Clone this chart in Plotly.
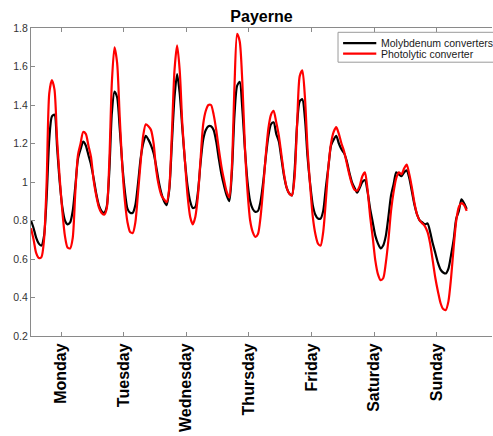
import plotly.graph_objects as go

# Hourly NOx ratio over one week at Payerne (hour 0 = Monday 00:00)
hours = list(range(168))

molybdenum = [
    0.80, 0.76, 0.71, 0.68, 0.67, 0.72, 0.92, 1.22, 1.34, 1.35, 1.18, 1.00,
    0.87, 0.80, 0.78, 0.79, 0.85, 0.98, 1.12, 1.17, 1.21, 1.19, 1.14, 1.09,
    1.02, 0.94, 0.88, 0.85, 0.84, 0.87, 1.05, 1.36, 1.47, 1.44, 1.28, 1.09,
    0.95, 0.86, 0.84, 0.84, 0.88, 0.99, 1.12, 1.20, 1.24, 1.22, 1.19, 1.15,
    1.08, 1.00, 0.94, 0.90, 0.88, 0.96, 1.20, 1.44, 1.56, 1.46, 1.28, 1.11,
    0.98, 0.90, 0.865, 0.87, 0.95, 1.10, 1.22, 1.27, 1.29, 1.29, 1.27, 1.21,
    1.12, 1.04, 0.98, 0.93, 0.90, 1.05, 1.35, 1.50, 1.52, 1.38, 1.17, 1.00,
    0.90, 0.86, 0.845, 0.85, 0.90, 1.00, 1.13, 1.24, 1.30, 1.31, 1.25, 1.21,
    1.12, 1.03, 0.97, 0.94, 0.93, 1.05, 1.30, 1.42, 1.43, 1.33, 1.13, 0.99,
    0.88, 0.83, 0.81, 0.81, 0.85, 0.97, 1.08, 1.19, 1.22, 1.24, 1.20, 1.17,
    1.15, 1.11, 1.05, 1.00, 0.97, 0.945, 0.97, 1.00, 1.01, 0.95, 0.86, 0.79,
    0.72, 0.68, 0.655, 0.67, 0.72, 0.82, 0.93, 0.99, 1.05, 1.04, 1.03, 1.05,
    1.06, 1.02, 0.95, 0.88, 0.83, 0.80, 0.79, 0.78, 0.785, 0.74, 0.68, 0.63,
    0.58, 0.545, 0.53, 0.525, 0.55, 0.62, 0.70, 0.81, 0.85, 0.91, 0.89, 0.86,
]

photolytic = [
    0.76, 0.70, 0.63, 0.605, 0.61, 0.70, 1.00, 1.46, 1.53, 1.48, 1.22, 1.02,
    0.85, 0.72, 0.66, 0.655, 0.71, 0.95, 1.14, 1.20, 1.26, 1.25, 1.19, 1.13,
    1.01, 0.93, 0.87, 0.84, 0.83, 0.86, 1.10, 1.52, 1.70, 1.62, 1.34, 1.08,
    0.90, 0.79, 0.74, 0.735, 0.79, 0.94, 1.10, 1.24, 1.30, 1.29, 1.27, 1.20,
    1.06, 0.98, 0.93, 0.91, 0.895, 0.97, 1.25, 1.58, 1.71, 1.58, 1.30, 1.11,
    0.93, 0.82, 0.78, 0.82, 0.93, 1.12, 1.30, 1.37, 1.40, 1.40, 1.35, 1.27,
    1.17, 1.08, 1.01, 0.95, 0.92, 1.08, 1.50, 1.77, 1.73, 1.52, 1.18, 0.95,
    0.80, 0.74, 0.715, 0.73, 0.82, 0.97, 1.14, 1.28, 1.35, 1.37, 1.31, 1.24,
    1.14, 1.04, 0.97, 0.94, 0.93, 1.02, 1.30, 1.55, 1.58, 1.44, 1.17, 0.98,
    0.82, 0.73, 0.68, 0.67, 0.74, 0.90, 1.08, 1.20, 1.26, 1.285, 1.25, 1.20,
    1.16, 1.10, 1.04, 0.99, 0.96, 0.955, 0.98, 1.03, 1.05, 0.96, 0.82, 0.71,
    0.59, 0.52, 0.49, 0.50, 0.58, 0.70, 0.85, 0.95, 1.02, 1.05, 1.04, 1.07,
    1.09, 1.04, 0.97, 0.89, 0.83, 0.80, 0.785, 0.77, 0.74, 0.68, 0.59, 0.50,
    0.43, 0.37, 0.34, 0.335, 0.38, 0.50, 0.66, 0.80, 0.87, 0.89, 0.88, 0.85,
]

day_names = ["Monday", "Tuesday", "Wednesday", "Thursday", "Friday", "Saturday", "Sunday"]
day_ticks = [11.5 + 24 * i for i in range(7)]
y_ticks = [0.2, 0.4, 0.6, 0.8, 1.0, 1.2, 1.4, 1.6, 1.8]
y_labels = ["0.2", "0.4", "0.6", "0.8", "1", "1.2", "1.4", "1.6", "1.8"]

series = [
    ("Molybdenum converters", molybdenum, "#000000"),
    ("Photolytic converter", photolytic, "#ff0000"),
]

FONT = "Liberation Sans, Arial, Helvetica, sans-serif"
AXIS_GREY = "#8a8a8a"

fig = go.Figure()
for name, values, color in series:
    fig.add_trace(go.Scatter(
        x=hours, y=values, mode="lines", name=name,
        line=dict(color=color, width=2.2, shape="spline", smoothing=0.7),
        showlegend=False,
    ))

# Legend box drawn by hand so the rows sit tightly together
legend_x0, legend_y_top, legend_y_bot = 0.666, 0.986, 0.889
row_y = [0.951, 0.917]
fig.add_shape(type="rect", xref="paper", yref="paper",
              x0=legend_x0, x1=1.03, y0=legend_y_bot, y1=legend_y_top,
              line=dict(color="#9a9a9a", width=1), fillcolor="white")
for (name, _, color), ry in zip(series, row_y):
    fig.add_shape(type="line", xref="paper", yref="paper",
                  x0=0.677, x1=0.749, y0=ry, y1=ry,
                  line=dict(color=color, width=2.2))
    fig.add_annotation(xref="paper", yref="paper", x=0.755, y=ry,
                       text=name, showarrow=False, xanchor="left", yanchor="middle",
                       font=dict(family=FONT, size=10.5, color="#1a1a1a"))

fig.update_layout(
    width=493, height=436,
    margin=dict(l=31, r=1, t=28, b=100, autoexpand=False),
    paper_bgcolor="white", plot_bgcolor="white",
    title=dict(text="<b>Payerne</b>", x=0.5, xref="paper", y=1 - 16 / 436,
               yanchor="middle", font=dict(family=FONT, size=16, color="#000000")),
    font=dict(family=FONT),
)
fig.update_xaxes(
    range=[0, 176.7], tickmode="array", tickvals=day_ticks, ticktext=day_names,
    tickangle=-90, tickfont=dict(family=FONT, size=16, color="#000000", weight="bold"),
    ticks="inside", ticklen=4, tickcolor=AXIS_GREY,
    showline=True, linecolor=AXIS_GREY, linewidth=1, mirror="ticks",
    showgrid=False, zeroline=False,
)
fig.update_yaxes(
    range=[0.2, 1.8], tickmode="array", tickvals=y_ticks, ticktext=y_labels,
    tickfont=dict(family=FONT, size=10.5, color="#333333"),
    ticks="inside", ticklen=4, tickcolor=AXIS_GREY,
    showline=True, linecolor=AXIS_GREY, linewidth=1, mirror=False,
    showgrid=False, zeroline=False,
)

fig.write_html("out.html")
